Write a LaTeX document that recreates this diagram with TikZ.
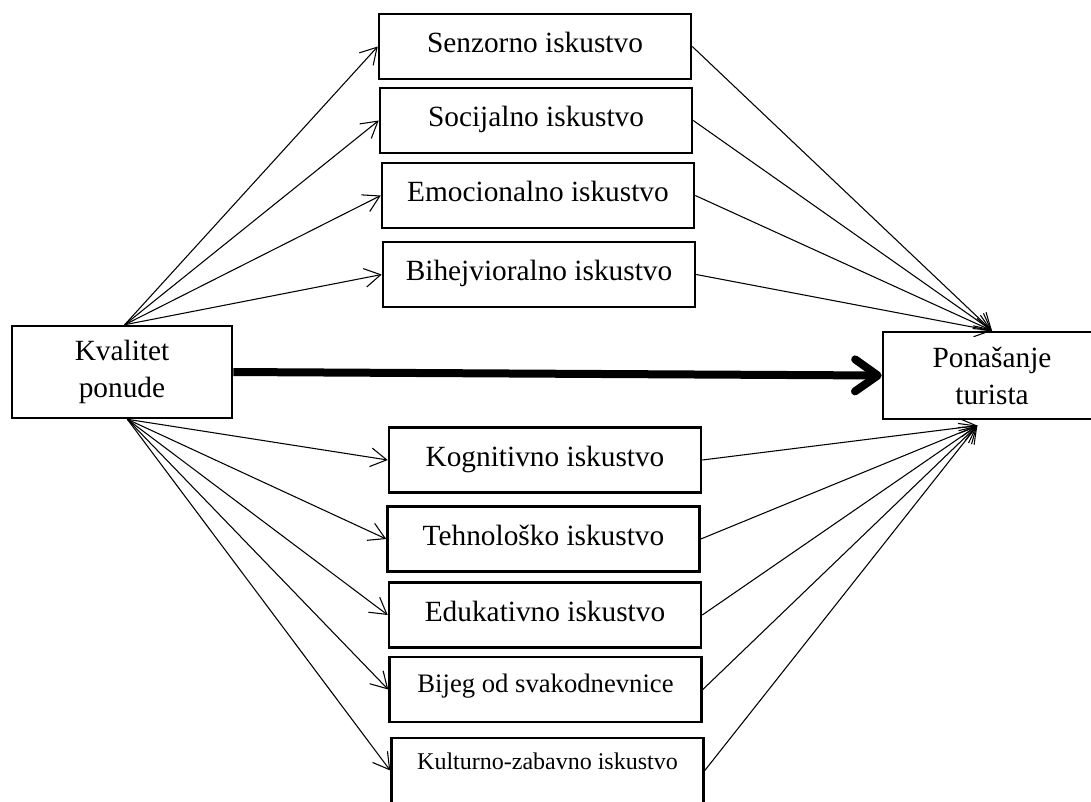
\documentclass[tikz,border=0pt]{standalone}
\usepackage{fontspec}
\setmainfont{Liberation Serif}
\usepackage{tikz}
\usetikzlibrary{arrows.meta}
\tikzset{
  box/.style={draw, line width=1.9pt, rectangle, align=center, inner sep=0pt, minimum width=234pt, minimum height=48.75pt, text height=15pt, text depth=6pt, font=\fontsize{22}{28}\selectfont},
  side/.style={draw, line width=1.9pt, rectangle, align=center, inner sep=0pt, font=\fontsize{22}{27.75}\selectfont},
  arr/.style={-{Straight Barb[length=12pt, width=14pt]}, line width=0.8pt},
  bigarr/.style={-{Straight Barb[length=17pt, width=24pt, round]}, line width=6pt}
}

\begin{document}
\begin{tikzpicture}[x=0.75pt, y=-0.75pt]
  \useasboundingbox (0,0) rectangle (1091,801);
  \node[side, minimum width=165pt, minimum height=69pt] (kval) at (122,372) {Kvalitet\\ponude};
  \node[side, minimum width=163.5pt, minimum height=65.25pt] (pon) at (992,375.5) {Ponašanje\\turista};
  % upper group
  \node[box] (senz) at (535,46.5) {Senzorno iskustvo};
  \node[box] (soc) at (536,120.5) {Socijalno iskustvo};
  \node[box] (emo) at (538,195.5) {Emocionalno iskustvo};
  \node[box] (bih) at (539,274.5) {Bihejvioralno iskustvo};
  % lower group
  \node[box] (kog) at (545,460) {Kognitivno iskustvo};
  \node[box] (teh) at (543.5,539) {Tehnološko iskustvo};
  \node[box] (edu) at (545,615) {Edukativno iskustvo};
  \node[box, text height=14pt, text depth=9pt, font=\fontsize{20}{24}\selectfont] (bij) at (545.5,689.5) {Bijeg od svakodnevnice};
  \node[box, text height=12pt, text depth=13.5pt, font=\fontsize{18}{22}\selectfont] (kult) at (547.5,770.5) {Kulturno-zabavno iskustvo};
  \coordinate (kvN) at ([xshift=2pt]kval.north);
  \coordinate (kvS) at ([xshift=4pt]kval.south);
  \coordinate (ponS) at ([xshift=-11pt, yshift=-4pt]pon.south);
  \foreach \n in {senz,soc,emo,bih} {
    \draw[arr] (kvN) -- (\n.west);
    \draw[arr] (\n.east) -- (pon.north);
  }
  \foreach \n in {kog,teh,edu,bij,kult} {
    \draw[arr] (kvS) -- (\n.west);
    \draw[arr] (\n.east) -- (ponS);
  }
  \draw[bigarr] (kval.east) -- (pon.west);
\end{tikzpicture}
\end{document}
